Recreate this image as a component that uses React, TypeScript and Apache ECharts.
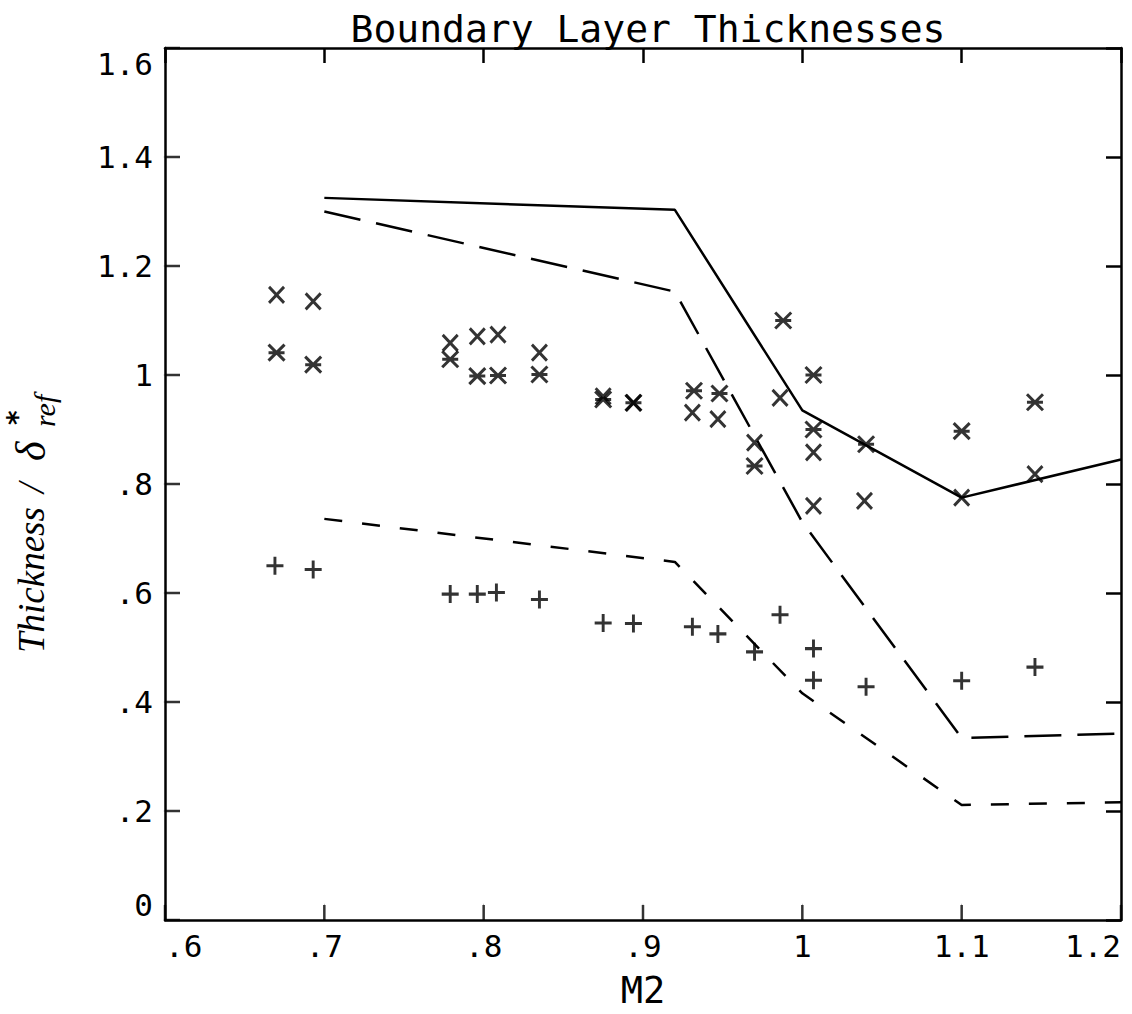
import React, { useEffect, useRef } from "react";
import * as echarts from "echarts";

// ---- data ----
const xTickVals = [0.6, 0.7, 0.8, 0.9, 1.0, 1.1, 1.2];
const xTickLabels = [".6", ".7", ".8", ".9", "1", "1.1", "1.2"];
const yTickVals = [0, 0.2, 0.4, 0.6, 0.8, 1.0, 1.2, 1.4, 1.6];
const yTickLabels = ["0", ".2", ".4", ".6", ".8", "1", "1.2", "1.4", "1.6"];

const lineM2 = [0.7, 0.92, 1.0, 1.1, 1.2];
const solidY = [1.325, 1.303, 0.935, 0.775, 0.845];
const longDashY = [1.3, 1.153, 0.73, 0.334, 0.342];
const shortDashY = [0.736, 0.657, 0.416, 0.211, 0.216];

const crossM2 = [0.67, 0.693, 0.779, 0.796, 0.809, 0.835, 0.875, 0.894, 0.931, 0.947, 0.97, 0.986, 1.007, 1.007, 1.039, 1.1, 1.146];
const crossY = [1.147, 1.135, 1.059, 1.071, 1.074, 1.041, 0.961, 0.949, 0.931, 0.919, 0.876, 0.958, 0.858, 0.76, 0.769, 0.775, 0.818];

const starM2 = [0.67, 0.693, 0.779, 0.796, 0.809, 0.835, 0.875, 0.894, 0.932, 0.948, 0.97, 0.988, 1.007, 1.007, 1.04, 1.1, 1.146];
const starY = [1.041, 1.019, 1.029, 0.998, 0.999, 1.001, 0.955, 0.949, 0.971, 0.966, 0.833, 1.1, 1.0, 0.9, 0.873, 0.897, 0.95];

const plusM2 = [0.669, 0.693, 0.779, 0.796, 0.808, 0.835, 0.875, 0.894, 0.931, 0.947, 0.97, 0.986, 1.007, 1.007, 1.04, 1.1, 1.146];
const plusY = [0.65, 0.643, 0.598, 0.598, 0.601, 0.588, 0.545, 0.544, 0.538, 0.525, 0.492, 0.56, 0.498, 0.44, 0.428, 0.439, 0.464];

const zip = (xs: number[], ys: number[]) => xs.map((x, i) => [x, ys[i]]);

const MONO = "DejaVu Sans Mono";
const SERIF = "Liberation Serif";
const TICK_LEN = 15;
const TICK_W = 2.5;

export default function App() {
  const ref = useRef<HTMLDivElement>(null);
  useEffect(() => {
    if (!ref.current) return;
    const chart = echarts.init(ref.current, null, { renderer: "svg" });

    const xFmt = (v: number) => xTickLabels[xTickVals.findIndex((t) => Math.abs(t - v) < 1e-6)] ?? "";
    const yFmt = (v: number) => yTickLabels[yTickVals.findIndex((t) => Math.abs(t - v) < 1e-6)] ?? "";

    const mkLine = () => ({ show: true, onZero: false, lineStyle: { color: "#000", width: 2.5 } });
    const mkTick = () => ({ show: true, inside: true, length: TICK_LEN, lineStyle: { color: "#000", width: TICK_W } });

    const markerStyle = { color: "rgba(0,0,0,0)", borderColor: "#000", borderWidth: 3 };
    const tickStyle = { color: "rgba(0,0,0,0)", borderColor: "#000", borderWidth: TICK_W };

    const xBase = { type: "value", min: 0.6, max: 1.2, interval: 0.1, splitLine: { show: false } };
    const yBase = { type: "value", min: 0, max: 1.6, interval: 0.2, splitLine: { show: false } };

    chart.setOption({
      animation: false,
      backgroundColor: "#fff",
      title: {
        text: "Boundary Layer Thicknesses",
        left: 643,
        top: 5,
        textAlign: "center",
        textStyle: { fontFamily: MONO, fontSize: 38, fontWeight: "normal", color: "#000" },
      },
      grid: { left: 165, top: 48, right: 11, bottom: 92, containLabel: false },
      xAxis: [
        {
          ...xBase,
          position: "bottom",
          axisLine: mkLine(),
          axisTick: { show: false },
          axisLabel: {
            formatter: xFmt,
            fontFamily: MONO,
            fontSize: 31,
            color: "#000",
            margin: 10,
            alignMinLabel: "left",
            alignMaxLabel: "right",
          },
          name: "M2",
          nameLocation: "middle",
          nameGap: 52,
          nameTextStyle: { fontFamily: MONO, fontSize: 37, color: "#000" },
        },
        { ...xBase, position: "top", axisLine: mkLine(), axisTick: mkTick(), axisLabel: { show: false } },
      ],
      yAxis: [
        {
          ...yBase,
          position: "left",
          axisLine: mkLine(),
          axisTick: { show: false },
          axisLabel: {
            formatter: yFmt,
            fontFamily: MONO,
            fontSize: 31,
            color: "#000",
            margin: 12,
            verticalAlignMinLabel: "bottom",
            verticalAlignMaxLabel: "top",
          },
        },
        { ...yBase, position: "right", axisLine: mkLine(), axisTick: mkTick(), axisLabel: { show: false } },
      ],
      graphic: [
        {
          type: "group",
          x: 31,
          y: 653,
          rotation: Math.PI / 2,
          children: [
            {
              type: "text",
              x: 0,
              y: 0,
              style: { text: "Thickness", fontFamily: SERIF, fontStyle: "italic", fontSize: 37, fill: "#000", align: "left", verticalAlign: "middle" },
            },
            {
              type: "text",
              x: 160,
              y: 0,
              style: { text: "/", fontFamily: SERIF, fontStyle: "italic", fontSize: 37, fill: "#000", align: "left", verticalAlign: "middle" },
            },
            {
              type: "text",
              x: 192,
              y: 0,
              style: { text: "δ", fontFamily: SERIF, fontStyle: "italic", fontSize: 42, fill: "#000", align: "left", verticalAlign: "middle" },
            },
            {
              type: "text",
              x: 226,
              y: 13,
              style: { text: "ref", fontFamily: SERIF, fontStyle: "italic", fontSize: 30, fill: "#000", align: "left", verticalAlign: "middle" },
            },
            {
              type: "text",
              x: 228,
              y: -28,
              style: { text: "*", fontFamily: "DejaVu Sans", fontWeight: "bold", fontSize: 28, fill: "#000", align: "left", verticalAlign: "top" },
            },
          ],
        },
      ],
      series: [
        {
          type: "line",
          data: zip(lineM2, solidY),
          showSymbol: false,
          lineStyle: { color: "#000", width: 2.5, type: "solid" },
        },
        {
          type: "line",
          data: zip(lineM2, longDashY),
          showSymbol: false,
          lineStyle: { color: "#000", width: 2.5, type: [37, 16] },
        },
        {
          type: "line",
          data: zip(lineM2, shortDashY),
          showSymbol: false,
          lineStyle: { color: "#000", width: 2.5, type: [18, 20] },
        },
        {
          type: "scatter",
          data: zip(crossM2, crossY),
          symbol: "path://M0,0L10,10M10,0L0,10",
          symbolSize: [15, 16],
          itemStyle: markerStyle,
        },
        {
          type: "scatter",
          data: zip(starM2, starY),
          symbol: "path://M0,0L10,10M10,0L0,10M0,5L10,5",
          symbolSize: [16, 16],
          itemStyle: markerStyle,
        },
        {
          type: "scatter",
          data: zip(plusM2, plusY),
          symbol: "path://M5,0L5,10M0,5L10,5",
          symbolSize: [17, 18],
          itemStyle: markerStyle,
        },
        // inside ticks of the bottom axis (at each x tick value, on y = min)
        {
          type: "scatter",
          silent: true,
          clip: false,
          z: 10,
          data: xTickVals.map((v) => [v, yTickVals[0]]),
          symbol: "path://M0,0L0,10M-0.1,0L0.1,0",
          symbolKeepAspect: true,
          symbolSize: [TICK_LEN, TICK_LEN],
          symbolOffset: [0, -TICK_LEN / 2],
          itemStyle: tickStyle,
        },
        // inside ticks of the left axis (at each y tick value, on x = min)
        {
          type: "scatter",
          silent: true,
          clip: false,
          z: 10,
          data: yTickVals.map((v) => [xTickVals[0], v]),
          symbol: "path://M0,0L10,0M0,-0.1L0,0.1",
          symbolKeepAspect: true,
          symbolSize: [TICK_LEN, TICK_LEN],
          symbolOffset: [TICK_LEN / 2, 0],
          itemStyle: tickStyle,
        },
      ],
    });

    return () => chart.dispose();
  }, []);
  return <div ref={ref} style={{ position: "absolute", left: 0, top: 0, width: 1132, height: 1014 }} />;
}
